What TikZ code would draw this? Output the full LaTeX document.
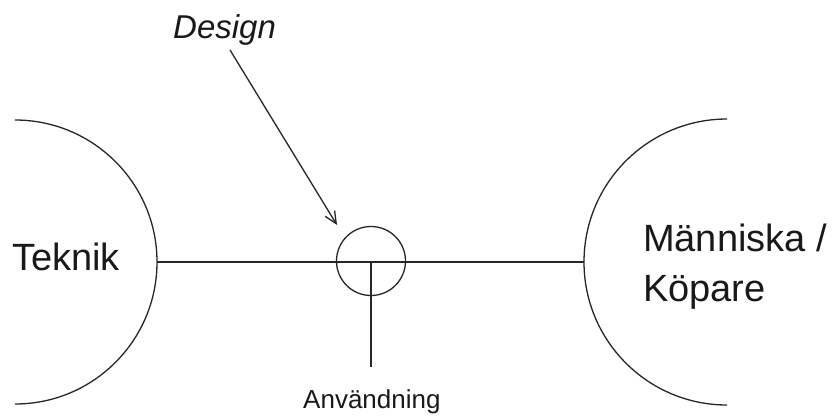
\documentclass[tikz,border=0pt]{standalone}
\usepackage{fontspec}
\setmainfont{Liberation Sans}
\usetikzlibrary{arrows.meta}
\begin{document}
\begin{tikzpicture}[x=1pt,y=-1pt,
  ln/.style={line width=1.3pt,draw=black!85},
  lbl/.style={inner sep=0pt,anchor=base west,text=black!90}]
\useasboundingbox (0,0) rectangle (835,416);
% arcs
\draw[ln] (15,120) arc[start angle=-90,end angle=90,radius=142];
\draw[ln] (727,119) arc[start angle=-90,end angle=-270,radius=143];
\coordinate (tekR) at (157,262);
\coordinate (menL) at (584,262);
% hub
\node[ln,circle,minimum size=69pt,inner sep=0pt] (hub) at (371,261) {};
\draw[ln] (tekR) -- (menL);
\coordinate (use) at (371,367);
\draw[ln] (hub.center |- tekR) -- (use);
% labels
\node[lbl,font=\fontsize{38}{44}\selectfont] (teknik) at (12,270) {Teknik};
\node[lbl,font=\fontsize{33}{40}\selectfont\itshape] (design) at (173,38) {Design};
\node[lbl,font=\fontsize{38}{46}\selectfont] (manniska) at (643,251) {Människa /};
\node[lbl,font=\fontsize{38}{46}\selectfont] (kopare) at (643,301) {Köpare};
\node[lbl,font=\fontsize{26}{32}\selectfont] (anv) at (303,408) {Användning};
% arrow
\coordinate (dtail) at (230,50);
\coordinate (dtip) at (337,225);
\draw[ln,line width=1.3pt,-{Straight Barb[length=12pt,width=11pt,line width=1.3pt]}] (dtail) -- (dtip);
\end{tikzpicture}
\end{document}
